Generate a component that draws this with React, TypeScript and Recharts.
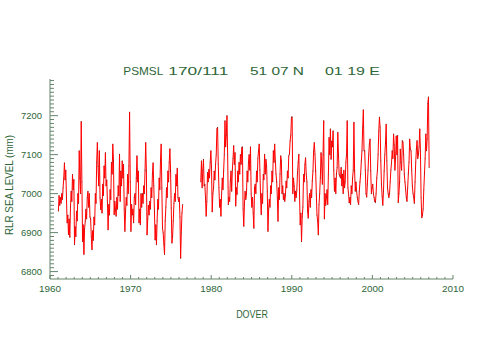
import { LineChart, Line, XAxis, YAxis } from 'recharts';

// PSMSL monthly mean sea level, Dover (RLR, mm)
const firstYear = 1961;

const levels1960s = [
  [6955, 6995, 6970, 6990, 6975, 7000, 6985, 7015, 7040, 7079, 7035, 7060],
  [6990, 6925, 6945, 6895, 6935, 6888, 6965, 7006, 6980, 7049, 7010, 7036],
  [6869, 6915, 6890, 6955, 6930, 7000, 6975, 7110, 7040, 7000, 7185, 7030],
  [6877, 6920, 6844, 6910, 6929, 6960, 6935, 6990, 7006, 6965, 7000, 6940],
  [6935, 6890, 6856, 6905, 6880, 6940, 6920, 7000, 6975, 7080, 7131, 7070],
  [7020, 7110, 6989, 6959, 6985, 6950, 7024, 6995, 7071, 7040, 7105, 7020],
  [7035, 6980, 6907, 6972, 6945, 7010, 6985, 7080, 7050, 7127, 7084, 6946],
  [6980, 6959, 6942, 6990, 6960, 7020, 6995, 7101, 6980, 7058, 7020, 7084],
  [7040, 7075, 6960, 6903, 6955, 6990, 6970, 7049, 7000, 7071, 7209, 7030],
];

const levels1970s = [
  [6903, 6972, 6945, 6960, 6925, 6990, 7000, 6972, 7040, 7097, 7030, 7058],
  [6925, 6960, 6920, 7000, 6965, 7000, 6975, 7020, 7000, 7060, 7131, 7058],
  [6894, 6935, 6970, 6945, 6980, 6960, 7015, 6990, 7050, 7079, 7020, 6955],
  [6881, 6920, 6869, 6930, 6985, 6960, 7040, 7010, 7085, 7127, 7015, 6911],
  [6900, 6870, 6844, 6930, 6965, 7015, 6990, 7058, 7030, 7080, 7115, 7058],
  [6963, 6873, 6890, 6930, 6975, 7000, 6980, 7049, 7020, 7065, 6990, 6980],
  [6990, 6940, 6834, 6900, 6950, 6972, null, null, null, null, null, null],
  [null, null, null, null, null, null, null, null, null, null, null, null],
  [null, null, null, null, null, null, null, null, 7030, 7084, 7015, 7060],
  [7088, 7020, 7024, 6990, 6942, 6980, 7054, 7030, 7062, 7040, 7080, 7110],
];

const levels1980s = [
  [7065, 6953, 7000, 7015, 7058, 7035, 7075, 7100, 7166, 7170, 7075, 7015],
  [6965, 6985, 6942, 7000, 7040, 7010, 7058, 7100, 7187, 7120, 7150, 7200],
  [7100, 6972, 6990, 6980, 7032, 7058, 7006, 7060, 7090, 7123, 7075, 7105],
  [6968, 7015, 6998, 7058, 7030, 7080, 7050, 7100, 7075, 7118, 7120, 6960],
  [6916, 6972, 7006, 6985, 6998, 7058, 7030, 7080, 7100, 7060, 7120, 7000],
  [6965, 6990, 6950, 6911, 7015, 7024, 7000, 7058, 7030, 7090, 7110, 7127],
  [7060, 6990, 6946, 7000, 6975, 7049, 7036, 7101, 7050, 7088, 7070, 7006],
  [6903, 6960, 6985, 6965, 7020, 7000, 7058, 7030, 7110, 7080, 7127, 7084],
  [7050, 7030, 6990, 6929, 7015, 6985, 7050, 7097, 7084, 7000, 7020, 6985],
  [7000, 6980, 6995, 7032, 7015, 7058, 7040, 7097, 7101, 7135, 7150, 7196],
];

const levels1990s = [
  [7197, 7000, 7040, 7020, 6980, 7006, 6990, 7010, 7054, 7080, 7101, 7000],
  [6920, 6950, 6877, 6940, 6965, 7049, 7030, 7075, 7092, 7050, 7030, 6955],
  [6937, 6980, 7000, 6965, 7010, 6990, 7032, 7058, 7110, 7131, 7101, 7058],
  [7000, 6945, 6930, 6894, 6972, 7000, 7040, 7105, 7075, 7024, 7100, 7187],
  [6935, 7000, 6970, 6990, 7010, 6972, 7049, 7144, 7100, 7166, 7088, 7135],
  [7120, 7161, 7060, 7006, 7040, 7000, 7050, 7067, 7157, 7100, 7050, 7045],
  [7040, 7067, 7020, 7050, 7000, 7060, 7015, 7030, 7080, 7100, 7187, 7015],
  [7000, 6976, 6990, 6972, 7020, 7000, 7040, 7060, 7183, 7058, 7006, 7030],
  [7006, 6990, 6980, 6972, 7006, 7030, 7050, 7083, 7110, 7170, 7215, 7110],
  [7110, 7060, 7000, 6991, 7024, 7060, 7100, 7127, 7140, 7058, 7000, 7015],
];

const levels2000s = [
  [7024, 7000, 6990, 6980, 6977, 7000, 7040, 7060, 7100, 7160, 7196, 7170],
  [7084, 7024, 6993, 6970, 7006, 7058, 7100, 7130, 7178, 7084, 7015, 7000],
  [6990, 7000, 7030, 7060, 7080, 7110, 7090, 7153, 7125, 7060, 7090, 7148],
  [7100, 7149, 6977, 7000, 7030, 7114, 7080, 7060, 7136, 7132, 7100, 7050],
  [7030, 7010, 6990, 6980, 7015, 7050, 7080, 7140, 7114, 7110, 7060, 7020],
  [7000, 6990, 6975, 7030, 7080, 7114, 7136, 7090, 7100, 7120, 7166, 7110],
  [6990, 6938, 6945, 6960, 7010, 7050, 7090, 7153, 7110, 7140, 7231, 7248],
  [7067],
];

const xMajorTicks = [1960, 1970, 1980, 1990, 2000, 2010];
const yMajorTicks = [6800, 6900, 7000, 7100, 7200];
const xDomain = [1960, 2010];
const yDomain = [6781, 7294];

const data: { t: number; level: number | null }[] = [];
[...levels1960s, ...levels1970s, ...levels1980s, ...levels1990s, ...levels2000s].forEach((row, i) => {
  row.forEach((v, m) => data.push({ t: firstYear + i + (m + 0.5) / 12, level: v }));
});

const xMinor: number[] = [];
for (let y = xDomain[0]; y <= xDomain[1]; y++) xMinor.push(y);
const yMinor: number[] = [];
for (let v = 6790; v <= 7290; v += 10) yMinor.push(v);

const TEXT = '#2e6637';
const AXIS = '#64856a';
const FONT = '"Liberation Sans", Arial, sans-serif';
const L = 50, R = 453, T = 79, B = 279;

const BottomTick = (p: any) => {
  const v = p.payload.value;
  const major = xMajorTicks.includes(v);
  return (
    <g>
      <line x1={p.x} x2={p.x} y1={B} y2={B - (major ? 4 : 2)} stroke={AXIS} />
      {major && (
        <text x={p.x} y={292} textAnchor="middle" fontSize={9} fill={TEXT} fontFamily={FONT}
          textLength={22} lengthAdjust="spacingAndGlyphs">{v}</text>
      )}
    </g>
  );
};

const TopTick = (p: any) => {
  const major = xMajorTicks.includes(p.payload.value);
  return <line x1={p.x} x2={p.x} y1={T} y2={T + (major ? 4 : 2)} stroke={AXIS} />;
};

const LeftTick = (p: any) => {
  const v = p.payload.value;
  const major = yMajorTicks.includes(v);
  return (
    <g>
      <line x1={L} x2={L + (major ? 8 : 4)} y1={p.y} y2={p.y} stroke={AXIS} />
      {major && (
        <text x={42} y={p.y + 3.2} textAnchor="end" fontSize={9} fill={TEXT} fontFamily={FONT}
          textLength={21} lengthAdjust="spacingAndGlyphs">{v}</text>
      )}
    </g>
  );
};

const RightTick = (p: any) => {
  const major = yMajorTicks.includes(p.payload.value);
  return <line x1={R} x2={R - (major ? 8 : 4)} y1={p.y} y2={p.y} stroke={AXIS} />;
};

const VertexDot = (p: any) => {
  if (p.cy == null || p.value == null) return <g key={p.key} />;
  return <rect key={p.key} x={p.cx - 0.5} y={p.cy - 0.5} width={1} height={1} fill="#222" opacity={0.5} />;
};

export default function App() {
  return (
    <div style={{ position: 'absolute', left: 0, top: 0, width: 503, height: 359, background: '#fff' }}>
      <LineChart width={503} height={359} data={data}
        margin={{ top: T, right: 503 - R, bottom: 359 - B - 30, left: L - 40 }}>
        <XAxis xAxisId="bottom" dataKey="t" type="number" domain={xDomain} ticks={xMinor} interval={0}
          height={30} axisLine={{ stroke: AXIS }} tickLine={false} tick={(p: any) => <BottomTick {...p} />} />
        <XAxis xAxisId="top" orientation="top" dataKey="t" type="number" domain={xDomain} ticks={xMinor} interval={0}
          height={0} axisLine={{ stroke: AXIS }} tickLine={false} tick={(p: any) => <TopTick {...p} />} />
        <YAxis yAxisId="left" type="number" domain={yDomain} ticks={yMinor} interval={0} width={40}
          axisLine={{ stroke: AXIS }} tickLine={false} tick={(p: any) => <LeftTick {...p} />} />
        <YAxis yAxisId="right" orientation="right" type="number" domain={yDomain} ticks={yMinor} interval={0} width={0}
          axisLine={{ stroke: AXIS }} tickLine={false} tick={(p: any) => <RightTick {...p} />} />
        <Line xAxisId="bottom" yAxisId="left" type="linear" dataKey="level" stroke="#ff0000" strokeWidth={1}
          dot={(p: any) => <VertexDot {...p} />} activeDot={false} connectNulls={false} isAnimationActive={false} />
      </LineChart>
      <svg width={503} height={359} style={{ position: 'absolute', left: 0, top: 0, pointerEvents: 'none' }}
        fontFamily={FONT} fill={TEXT}>
        <text x={123.3} y={74.5} fontSize={10.5} textLength={40} lengthAdjust="spacingAndGlyphs">PSMSL</text>
        <text x={168.3} y={74.5} fontSize={10.5} textLength={60} lengthAdjust="spacingAndGlyphs">170/111</text>
        <text x={250} y={74.5} fontSize={10.5} textLength={54} lengthAdjust="spacingAndGlyphs">51 07 N</text>
        <text x={325} y={74.5} fontSize={10.5} textLength={55} lengthAdjust="spacingAndGlyphs">01 19 E</text>
        <text x={252} y={318.3} fontSize={10} textAnchor="middle" textLength={31.7} lengthAdjust="spacingAndGlyphs">DOVER</text>
        <text x={13.3} y={185} fontSize={10} textAnchor="middle" transform="rotate(-90 13.3 185)"
          textLength={100} lengthAdjust="spacingAndGlyphs">RLR SEA LEVEL (mm)</text>
      </svg>
    </div>
  );
}
